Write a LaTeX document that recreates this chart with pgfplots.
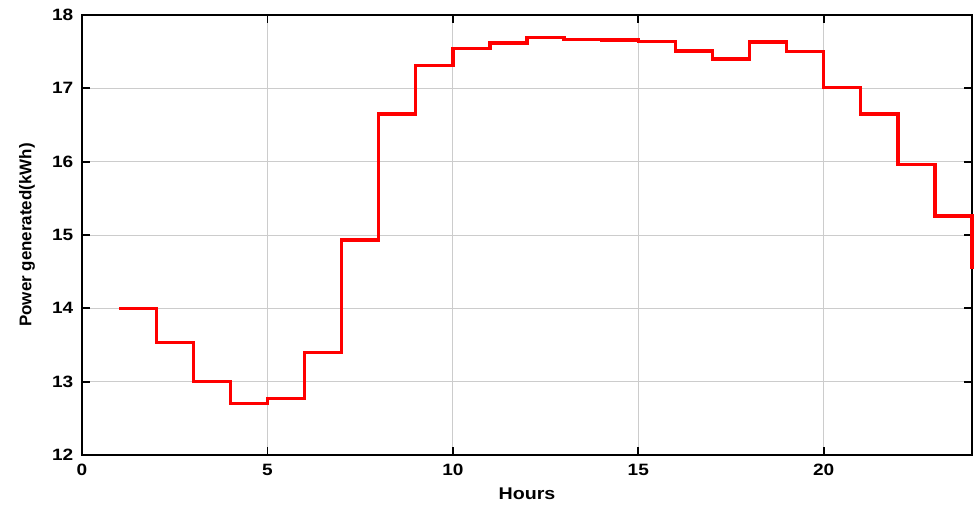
\documentclass[border=0pt]{standalone}
\usepackage{fontspec}
\setmainfont{Liberation Sans}[FakeStretch=1.16]
\newfontfamily\ylabfont{Liberation Sans}
\usepackage{pgfplots}
\pgfplotsset{compat=1.18}

\begin{document}
\begin{tikzpicture}
\begin{axis}[scale only axis, width=667.5pt, height=330pt,
  xmin=0, xmax=24, ymin=12, ymax=18,
  xtick={0,5,10,15,20}, ytick={12,13,...,18},
  grid=major, major grid style={gray!40, line width=0.6pt},
  tick align=inside, major tick length=6pt,
  major tick style={black, line width=1.3pt},
  axis line style={black, line width=1pt},
  /pgf/number format/assume math mode=true,
  tick label style={font=\fontsize{12.3}{14}\selectfont\bfseries},
  xticklabel style={yshift=-3.5pt},
  yticklabel style={xshift=-3pt},
  xlabel={Hours}, ylabel={\ylabfont Power generated(kWh)},
  label style={font=\fontsize{12.7}{15}\selectfont\bfseries},
  xlabel style={at={(axis description cs:0.5,-0.0886)}, anchor=center},
  ylabel style={at={(axis description cs:-0.0618,0.5)}, anchor=center},
  clip=false]
\addplot[const plot, red, line width=2.5pt] coordinates {
(1,14.00) (2,13.53) (3,13.00) (4,12.70) (5,12.77) (6,13.40) (7,14.93) (8,16.65)
(9,17.31) (10,17.54) (11,17.62) (12,17.69) (13,17.67) (14,17.66) (15,17.64)
(16,17.51) (17,17.40) (18,17.63) (19,17.50) (20,17.01) (21,16.65) (22,15.96)
(23,15.26) (24,14.54)};
\coordinate (bl) at (rel axis cs:0,0);
\coordinate (tr) at (rel axis cs:1,1);
\end{axis}
\pgfresetboundingbox
\path ([shift={(-61.5pt,-39pt)}]bl) rectangle ([shift={(2.25pt,11.25pt)}]tr);
\end{tikzpicture}
\end{document}
